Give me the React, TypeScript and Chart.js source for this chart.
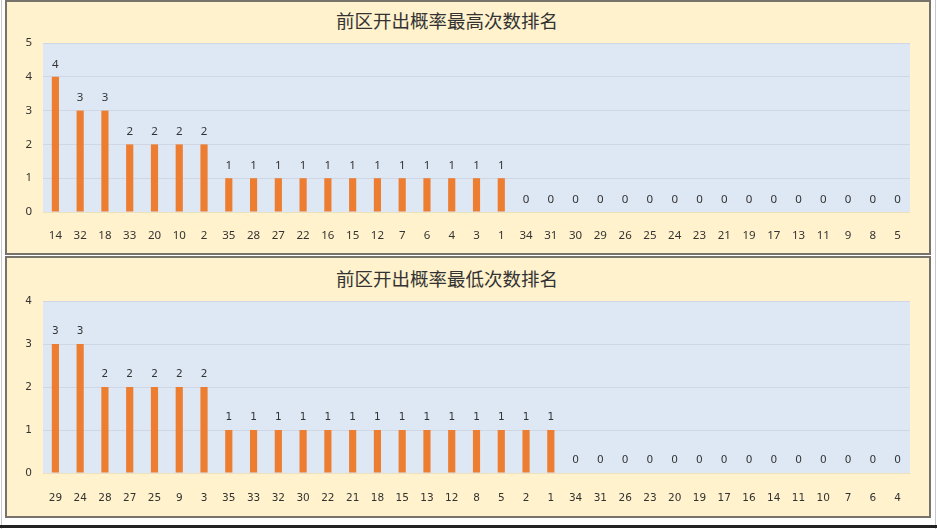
import React, { useEffect, useRef } from 'react';
import { Chart, registerables } from 'chart.js';

Chart.register(...registerables);

// 前区 numbers, sorted by how often they came up
const highLabels = ['14', '32', '18', '33', '20', '10', '2', '35', '28', '27', '22', '16', '15', '12', '7', '6', '4', '3', '1', '34', '31', '30', '29', '26', '25', '24', '23', '21', '19', '17', '13', '11', '9', '8', '5'];
const highCounts = [4, 3, 3, 2, 2, 2, 2, 1, 1, 1, 1, 1, 1, 1, 1, 1, 1, 1, 1, 0, 0, 0, 0, 0, 0, 0, 0, 0, 0, 0, 0, 0, 0, 0, 0];

const lowLabels = ['29', '24', '28', '27', '25', '9', '3', '35', '33', '32', '30', '22', '21', '18', '15', '13', '12', '8', '5', '2', '1', '34', '31', '26', '23', '20', '19', '17', '16', '14', '11', '10', '7', '6', '4'];
const lowCounts = [3, 3, 2, 2, 2, 2, 2, 1, 1, 1, 1, 1, 1, 1, 1, 1, 1, 1, 1, 1, 1, 0, 0, 0, 0, 0, 0, 0, 0, 0, 0, 0, 0, 0, 0];

const BAR = '#ED7D31';
const PLOT_BG = '#DEE8F5';
const PANEL_BG = '#FFF2CC';
const INK = '#333333';

const plotBg = {
  id: 'plotBg',
  beforeDraw(chart: Chart) {
    const { ctx, chartArea: a } = chart;
    ctx.save();
    ctx.fillStyle = PLOT_BG;
    ctx.fillRect(a.left, a.top, a.right - a.left, a.bottom - a.top);
    ctx.restore();
  },
};

const valueLabels = {
  id: 'valueLabels',
  afterDatasetsDraw(chart: Chart) {
    const { ctx } = chart;
    const font = (chart.options as any).plugins.valueLabels.font;
    const meta = chart.getDatasetMeta(0);
    const data = chart.data.datasets[0].data as number[];
    ctx.save();
    ctx.font = font;
    ctx.fillStyle = INK;
    ctx.textAlign = 'center';
    ctx.textBaseline = 'middle';
    meta.data.forEach((bar: any, i: number) => {
      ctx.fillText(String(data[i]), bar.x, bar.y - 12.5);
    });
    ctx.restore();
  },
};

function BarPanel({
  title,
  labels,
  values,
  yMax,
  family,
  size,
  top,
  height,
  titleY,
  areaTop,
  axisH,
  xPad,
}: {
  title: string;
  labels: string[];
  values: number[];
  yMax: number;
  family: string;
  size: number;
  top: number;
  height: number;
  titleY: number;
  areaTop: number;
  axisH: number;
  xPad: number;
}) {
  const canvasRef = useRef<HTMLCanvasElement | null>(null);

  useEffect(() => {
    const canvas = canvasRef.current;
    if (!canvas) return;
    const tickFont = { family, size };
    const chart = new Chart(canvas, {
      type: 'bar',
      data: {
        labels,
        datasets: [
          {
            data: values,
            backgroundColor: BAR,
            borderWidth: 0,
            categoryPercentage: 1,
            barPercentage: 0.29,
          },
        ],
      },
      options: {
        animation: false,
        responsive: true,
        maintainAspectRatio: false,
        layout: { padding: { top: areaTop, left: 0, right: 19, bottom: 0 } },
        plugins: {
          legend: { display: false },
          tooltip: { enabled: false },
          valueLabels: { font: `${size}px ${family}` },
        } as any,
        scales: {
          x: {
            grid: { display: false },
            border: { display: false },
            ticks: { color: INK, font: tickFont, padding: xPad, autoSkip: false, maxRotation: 0 },
            afterFit: (s: any) => {
              s.height = axisH;
            },
          },
          y: {
            min: 0,
            max: yMax,
            grid: { color: 'rgba(0,0,0,0.07)', drawTicks: false },
            border: { display: false },
            ticks: { color: INK, font: tickFont, stepSize: 1, padding: 11 },
            afterFit: (s: any) => {
              s.width = 36;
            },
          },
        },
      },
      plugins: [plotBg, valueLabels],
    });
    return () => chart.destroy();
  }, [labels, values, yMax, family, size, areaTop, axisH, xPad]);

  return (
    <div
      style={{
        position: 'absolute',
        left: 5,
        top,
        width: 926,
        height,
        boxSizing: 'border-box',
        border: '2px solid #77736b',
        background: PANEL_BG,
      }}
    >
      <div
        style={{
          position: 'absolute',
          left: 0,
          width: 880,
          top: titleY - 12,
          height: 24,
          lineHeight: '24px',
          textAlign: 'center',
          fontFamily: '"Noto Sans CJK SC", sans-serif',
          fontSize: 18.5,
          color: INK,
        }}
      >
        {title}
      </div>
      <div style={{ position: 'absolute', left: 0, top: 0, right: 0, bottom: 0 }}>
        <canvas ref={canvasRef} role="img" aria-label={title} />
      </div>
    </div>
  );
}

export default function App() {
  return (
    <div
      style={{
        position: 'fixed',
        left: 0,
        top: 0,
        width: 937,
        height: 529,
        background: '#ffffff',
        overflow: 'hidden',
      }}
    >
      {/* window frame lines */}
      <div style={{ position: 'absolute', left: 1, top: 0, width: 1, height: 529, background: '#c8c8c8' }} />
      <div style={{ position: 'absolute', left: 935, top: 0, width: 1, height: 529, background: '#c8c8c8' }} />
      <div style={{ position: 'absolute', left: 0, top: 525, width: 937, height: 3, background: '#222222' }} />

      <BarPanel
        title="前区开出概率最高次数排名"
        labels={highLabels}
        values={highCounts}
        yMax={5}
        family='"Liberation Sans Narrow", "Noto Sans", sans-serif'
        size={11.5}
        top={0}
        height={255}
        titleY={18}
        areaTop={41}
        axisH={41}
        xPad={9}
      />
      <BarPanel
        title="前区开出概率最低次数排名"
        labels={lowLabels}
        values={lowCounts}
        yMax={4}
        family='"DejaVu Sans", sans-serif'
        size={10.5}
        top={256}
        height={262}
        titleY={19.5}
        areaTop={43}
        axisH={43}
        xPad={11}
      />
    </div>
  );
}
